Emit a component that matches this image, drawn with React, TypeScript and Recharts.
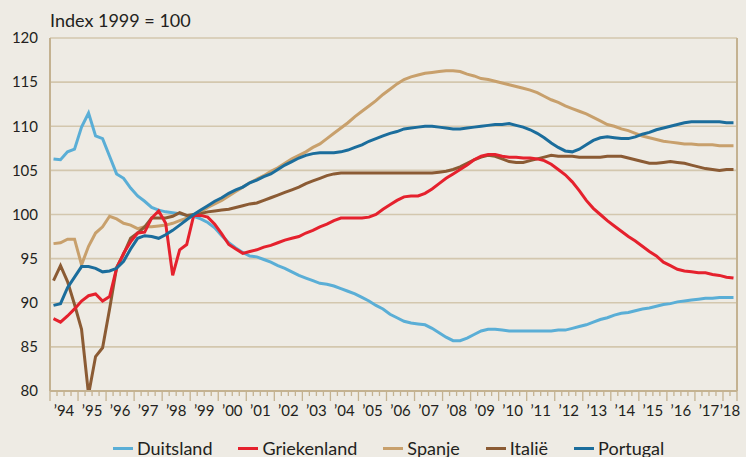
import { LineChart, Line, XAxis, YAxis, CartesianGrid, ReferenceLine } from "recharts";

// Quarterly index values, 1994 Q1 .. 2018 Q2 (1999 = 100)
const duitsland = [
  106.3, 106.2, 107.1, 107.4, 109.9, 111.5, 108.9, 108.6, 106.6, 104.6,
  104.1, 103.0, 102.1, 101.5, 100.8, 100.5, 100.3, 100.2, 100.1, 99.9,
  99.8, 99.5, 99.1, 98.5, 97.6, 96.8, 96.2, 95.7, 95.3, 95.2,
  94.9, 94.6, 94.2, 93.9, 93.5, 93.1, 92.8, 92.5, 92.2, 92.1,
  91.9, 91.6, 91.3, 91.0, 90.6, 90.2, 89.7, 89.3, 88.7, 88.3,
  87.9, 87.7, 87.6, 87.5, 87.1, 86.6, 86.1, 85.7, 85.7, 86.0,
  86.4, 86.8, 87.0, 87.0, 86.9, 86.8, 86.8, 86.8, 86.8, 86.8,
  86.8, 86.8, 86.9, 86.9, 87.1, 87.3, 87.5, 87.8, 88.1, 88.3,
  88.6, 88.8, 88.9, 89.1, 89.3, 89.4, 89.6, 89.8, 89.9, 90.1,
  90.2, 90.3, 90.4, 90.5, 90.5, 90.6, 90.6, 90.6,
];

const griekenland = [
  88.2, 87.8, 88.5, 89.3, 90.2, 90.8, 91.0, 90.2, 90.7, 93.9,
  95.6, 96.9, 97.9, 98.0, 99.6, 100.4, 99.0, 93.1, 96.0, 96.6,
  99.9, 99.9, 99.7, 98.9, 97.8, 96.6, 96.1, 95.6, 95.8, 96.0,
  96.3, 96.5, 96.8, 97.1, 97.3, 97.5, 97.9, 98.2, 98.6, 98.9,
  99.3, 99.6, 99.6, 99.6, 99.6, 99.7, 100.0, 100.6, 101.1, 101.6,
  102.0, 102.1, 102.1, 102.4, 102.9, 103.5, 104.1, 104.6, 105.1, 105.6,
  106.2, 106.6, 106.8, 106.8, 106.6, 106.5, 106.5, 106.4, 106.4, 106.3,
  106.1, 105.7, 105.1, 104.5, 103.7, 102.7, 101.6, 100.7, 100.0, 99.3,
  98.7, 98.1, 97.5, 97.0, 96.4, 95.8, 95.3, 94.6, 94.2, 93.8,
  93.6, 93.5, 93.4, 93.4, 93.2, 93.1, 92.9, 92.8,
];

const spanje = [
  96.7, 96.8, 97.2, 97.2, 94.3, 96.4, 97.9, 98.6, 99.8, 99.5,
  99.0, 98.8, 98.4, 98.6, 98.6, 98.7, 98.8, 99.0, 99.3, 99.6,
  99.9, 100.3, 100.8, 101.2, 101.6, 102.1, 102.6, 103.1, 103.6, 104.0,
  104.4, 104.9, 105.3, 105.8, 106.3, 106.7, 107.1, 107.6, 108.0, 108.6,
  109.2, 109.8, 110.4, 111.1, 111.7, 112.3, 112.9, 113.6, 114.2, 114.8,
  115.3, 115.6, 115.8, 116.0, 116.1, 116.2, 116.3, 116.3, 116.2, 115.9,
  115.7, 115.4, 115.3, 115.1, 114.9, 114.7, 114.5, 114.3, 114.1, 113.8,
  113.4, 113.0, 112.7, 112.3, 112.0, 111.7, 111.4, 111.0, 110.6, 110.2,
  110.0, 109.7, 109.5, 109.2, 108.9, 108.7, 108.5, 108.3, 108.2, 108.1,
  108.0, 108.0, 107.9, 107.9, 107.9, 107.8, 107.8, 107.8,
];

const italie = [
  92.5, 94.2, 92.4, 89.8, 87.0, 79.6, 83.9, 84.9, 89.3, 94.0,
  95.5, 97.3, 97.9, 98.6, 99.6, 99.6, 99.6, 99.8, 100.2, 99.9,
  100.0, 100.1, 100.3, 100.4, 100.5, 100.6, 100.8, 101.0, 101.2, 101.3,
  101.6, 101.9, 102.2, 102.5, 102.8, 103.1, 103.5, 103.8, 104.1, 104.4,
  104.6, 104.7, 104.7, 104.7, 104.7, 104.7, 104.7, 104.7, 104.7, 104.7,
  104.7, 104.7, 104.7, 104.7, 104.7, 104.8, 104.9, 105.1, 105.4, 105.8,
  106.2, 106.5, 106.7, 106.6, 106.3, 106.0, 105.9, 105.9, 106.1, 106.3,
  106.5, 106.7, 106.6, 106.6, 106.6, 106.5, 106.5, 106.5, 106.5, 106.6,
  106.6, 106.6, 106.4, 106.2, 106.0, 105.8, 105.8, 105.9, 106.0, 105.9,
  105.8, 105.6, 105.4, 105.2, 105.1, 105.0, 105.1, 105.1,
];

const portugal = [
  89.7, 89.9, 91.7, 92.9, 94.1, 94.1, 93.9, 93.5, 93.6, 93.9,
  94.7, 96.1, 97.3, 97.6, 97.5, 97.3, 97.7, 98.2, 98.8, 99.4,
  100.0, 100.5, 101.0, 101.5, 101.9, 102.4, 102.8, 103.1, 103.6, 103.9,
  104.3, 104.6, 105.1, 105.6, 106.0, 106.4, 106.7, 106.9, 107.0, 107.0,
  107.0, 107.1, 107.3, 107.6, 107.9, 108.3, 108.6, 108.9, 109.2, 109.4,
  109.7, 109.8, 109.9, 110.0, 110.0, 109.9, 109.8, 109.7, 109.7, 109.8,
  109.9, 110.0, 110.1, 110.2, 110.2, 110.3, 110.1, 109.9, 109.6, 109.2,
  108.7, 108.1, 107.6, 107.2, 107.1, 107.4, 107.9, 108.4, 108.7, 108.8,
  108.7, 108.6, 108.6, 108.8, 109.1, 109.3, 109.6, 109.8, 110.0, 110.2,
  110.4, 110.5, 110.5, 110.5, 110.5, 110.5, 110.4, 110.4,
];

const yTicks = [80, 85, 90, 95, 100, 105, 110, 115, 120];

const series = [
  { key: "duitsland", name: "Duitsland", color: "#5aaed6", values: duitsland },
  { key: "griekenland", name: "Griekenland", color: "#e5212d", values: griekenland },
  { key: "spanje", name: "Spanje", color: "#c8a06c", values: spanje },
  { key: "italie", name: "Italië", color: "#8b5b34", values: italie },
  { key: "portugal", name: "Portugal", color: "#1b6d9c", values: portugal },
];

// draw order (Portugal on top)
const drawOrder = ["duitsland", "spanje", "italie", "griekenland", "portugal"];

const BG = "#eeebe4";
const GRID = "#d3c7ae";
const AXIS = "#c4b291";
const TEXT = "#231f20";
const FONT = "Lato, 'Open Sans', sans-serif";

const X_START = 1994;
const X_END = 2018.5;

// each point sits in the middle of its quarter
const data = duitsland.map((_, i) => {
  const row: Record<string, number> = { t: X_START + 0.125 + i * 0.25 };
  series.forEach((s) => {
    row[s.key] = s.values[i];
  });
  return row;
});

// quarter boundaries; year labels go on the mid-year tick (last year: middle of the visible part)
const quarterTicks: number[] = [];
for (let q = X_START; q <= X_END; q += 0.25) quarterTicks.push(q);

const labelYear = (v: number) => {
  const frac = v - Math.floor(v);
  if (v + 0.5 > X_END) return v === X_END - 0.25 ? Math.floor(v) : null;
  return frac === 0.5 ? Math.floor(v) : null;
};

const QuarterTick = (props: any) => {
  const { x, y, payload } = props;
  const v = payload.value;
  const major = Number.isInteger(v) || v === X_END;
  const yr = labelYear(v);
  return (
    <g>
      <line x1={x} x2={x} y1={y} y2={y + (major ? 10 : 5)} stroke={AXIS} strokeWidth={1.3} />
      {yr !== null && (
        <text
          x={x}
          y={y + 14}
          dy="0.71em"
          textAnchor="middle"
          fontSize={15}
          fill={TEXT}
          fontFamily={FONT}
        >
          {"\u2019" + String(yr).slice(2)}
        </text>
      )}
    </g>
  );
};

export default function App() {
  return (
    <div
      style={{
        position: "absolute",
        left: 0,
        top: 0,
        width: 746,
        height: 457,
        background: BG,
        fontFamily: FONT,
        color: TEXT,
        overflow: "hidden",
      }}
    >
      <div style={{ position: "absolute", left: 50, top: 9, fontSize: 18, lineHeight: "22px" }}>
        Index 1999 = 100
      </div>

      <LineChart
        width={746}
        height={457}
        data={data}
        margin={{ top: 38, right: 9, bottom: 32, left: 0 }}
      >
        <CartesianGrid vertical={false} stroke={GRID} strokeWidth={1.6} />
        <XAxis
          dataKey="t"
          type="number"
          domain={[X_START, X_END]}
          ticks={quarterTicks}
          interval={0}
          height={34}
          tickSize={0}
          tickMargin={0}
          tickLine={false}
          tick={<QuarterTick />}
          axisLine={{ stroke: AXIS, strokeWidth: 2 }}
          allowDataOverflow
        />
        <YAxis
          domain={[80, 120]}
          ticks={yTicks}
          width={50}
          interval={0}
          allowDataOverflow
          tickLine={false}
          tickMargin={6}
          axisLine={{ stroke: AXIS, strokeWidth: 2 }}
          tick={{ fontSize: 15, fill: TEXT, fontFamily: FONT }}
        />
        <ReferenceLine x={X_END} stroke={AXIS} strokeWidth={2} />
        {drawOrder.map((k) => {
          const s = series.find((d) => d.key === k)!;
          return (
            <Line
              key={s.key}
              type="linear"
              dataKey={s.key}
              name={s.name}
              stroke={s.color}
              strokeWidth={3}
              dot={false}
              isAnimationActive={false}
            />
          );
        })}
      </LineChart>

      {/* legend */}
      <div
        style={{
          position: "absolute",
          left: 113,
          top: 437,
          display: "flex",
          alignItems: "center",
          gap: 26,
          fontSize: 18,
          lineHeight: "22px",
          whiteSpace: "nowrap",
        }}
      >
        {series.map((s) => (
          <div key={s.key} style={{ display: "flex", alignItems: "center", gap: 4 }}>
            <span style={{ display: "inline-block", width: 20, height: 3, background: s.color }} />
            <span>{s.name}</span>
          </div>
        ))}
      </div>
    </div>
  );
}
